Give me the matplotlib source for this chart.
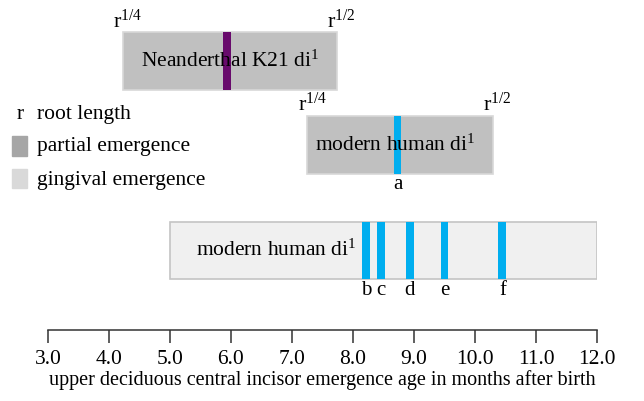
import matplotlib
matplotlib.use('Agg')
import matplotlib.pyplot as plt
from matplotlib.patches import Rectangle

plt.rcParams['font.family'] = ['Liberation Serif', 'DejaVu Serif']
plt.rcParams['mathtext.fontset'] = 'custom'
plt.rcParams['mathtext.rm'] = 'Liberation Serif'
plt.rcParams['mathtext.it'] = 'Liberation Serif:italic'

# 数据（月龄）
row_labels = ['Neanderthal K21 di$^1$', 'modern human di$^1$', 'modern human di$^1$']
row_start = [4.23, 7.25, 5.0]
row_end = [7.73, 10.29, 12.0]
row_kind = ['partial', 'partial', 'gingival']

nean_age = [5.94]
modern_partial_age = [8.73]
modern_partial_tag = ['a']
modern_gingival_age = [8.21, 8.46, 8.93, 9.5, 10.45]
modern_gingival_tag = ['b', 'c', 'd', 'e', 'f']

ticks = [3.0, 4.0, 5.0, 6.0, 7.0, 8.0, 9.0, 10.0, 11.0, 12.0]

# 样式
row_y = [3.24, 2.23, 0.96]
row_h = 0.69
label_off = [0.3, 0.13, 0.42]
fill = {'partial': '#c0c0c0', 'gingival': '#f0f0f0'}
edge = {'partial': '#d8d8d8', 'gingival': '#c4c4c4'}
blue = '#00aeef'
purple = '#680a6c'
line_w = 0.13

fig = plt.figure(figsize=(6.44, 4.01), dpi=100)
ax = fig.add_axes([48 / 644, 1 - 330 / 401, 549 / 644, 330 / 401])

for i in range(3):
    k = row_kind[i]
    ax.barh(row_y[i], row_end[i] - row_start[i], left=row_start[i], height=row_h,
            color=fill[k], edgecolor=edge[k], linewidth=1.2)
    ax.text(row_start[i] + label_off[i], row_y[i], row_labels[i],
            ha='left', va='center', fontsize=15.5)
    if k == 'partial':
        top = row_y[i] + row_h / 2
        ax.text(row_start[i] + 0.08, top, 'r$^{1/4}$', ha='center', va='bottom', fontsize=16)
        ax.text(row_end[i] + 0.08, top, 'r$^{1/2}$', ha='center', va='bottom', fontsize=16)

def draw_marks(ages, tags, row, color):
    y0 = row_y[row] - row_h / 2
    ax.bar(ages, row_h, bottom=y0, width=line_w, color=color, linewidth=0)
    for a, t in zip(ages, tags):
        ax.text(a, y0 - 0.02, t, ha='center', va='top', fontsize=15)

draw_marks(nean_age, [''], 0, purple)
draw_marks(modern_partial_age, modern_partial_tag, 1, blue)
draw_marks(modern_gingival_age, modern_gingival_tag, 2, blue)

ax.set_xlim(3, 12)
ax.set_ylim(0, 330 / 83)
ax.set_xticks(ticks)
ax.set_xticklabels([f'{t:.1f}' for t in ticks], fontsize=15.5)
ax.tick_params(axis='x', direction='out', length=9.5, width=1.1, color='#333333', pad=5)
ax.set_yticks([])
for s in ['left', 'top', 'right']:
    ax.spines[s].set_visible(False)
ax.spines['bottom'].set_color('#333333')
ax.spines['bottom'].set_linewidth(1.1)
ax.set_xlabel('upper deciduous central incisor emergence age in months after birth',
              fontsize=14.5, labelpad=1)
ax.patch.set_visible(False)

# 图例
fig.text(17 / 644, 1 - 119 / 401, 'r', ha='left', va='baseline', fontsize=15.5)
fig.text(37 / 644, 1 - 119 / 401, 'root length', ha='left', va='baseline', fontsize=15.5)
fig.patches.append(Rectangle((12 / 644, 1 - 156 / 401), 15 / 644, 20 / 401,
                             transform=fig.transFigure, color='#a6a6a6'))
fig.text(37 / 644, 1 - 151 / 401, 'partial emergence', ha='left', va='baseline', fontsize=15.5)
fig.patches.append(Rectangle((12 / 644, 1 - 188 / 401), 15 / 644, 19 / 401,
                             transform=fig.transFigure, color='#d9d9d9'))
fig.text(37 / 644, 1 - 185 / 401, 'gingival emergence', ha='left', va='baseline', fontsize=15.5)

plt.savefig('out.png', dpi=100)
